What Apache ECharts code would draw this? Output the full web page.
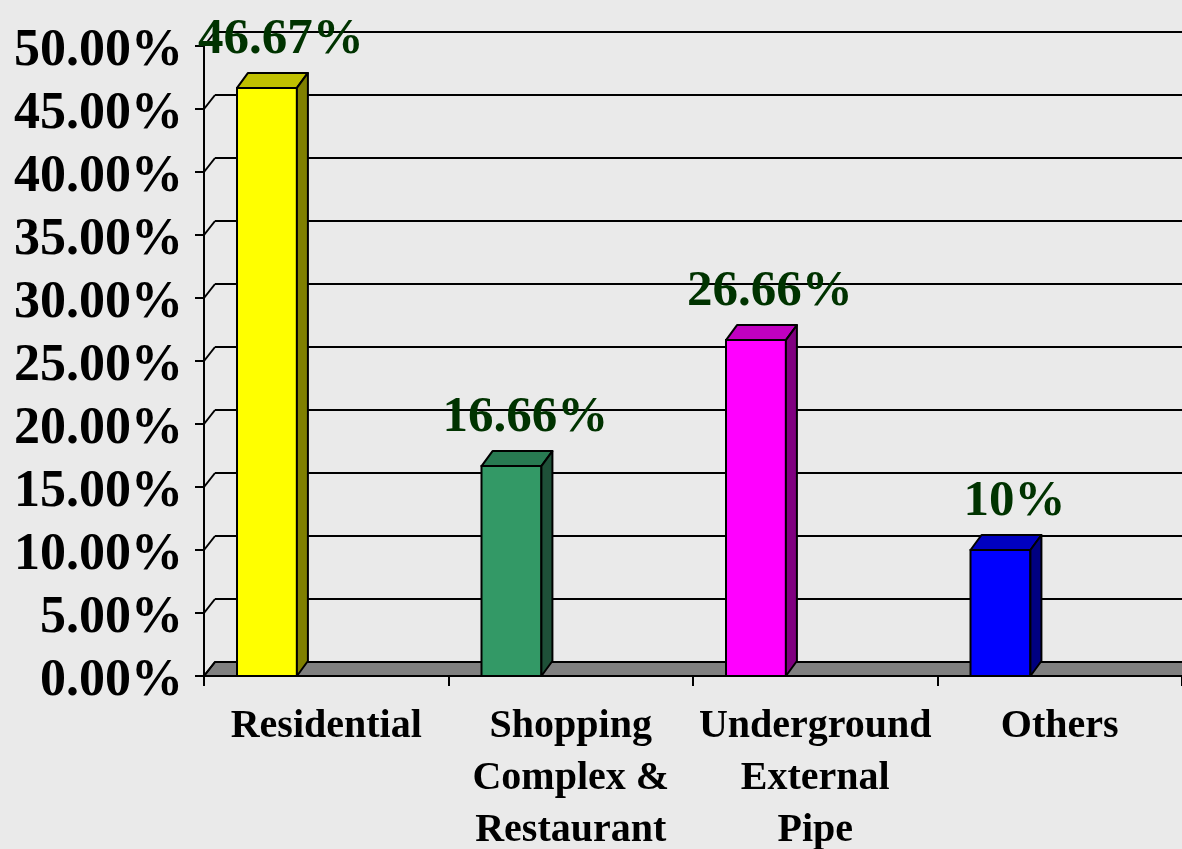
<!DOCTYPE html>
<html><head><meta charset="utf-8">
<script src="https://cdn.jsdelivr.net/npm/echarts@6/dist/echarts.min.js"></script>
<style>html,body{margin:0;padding:0;background:#eaeaea}#c{width:1182px;height:849px}</style>
</head><body><div id="c"></div>
<script>
// ---- data ----
const categories = ['Residential', 'Shopping\nComplex &\nRestaurant', 'Underground\nExternal\nPipe', 'Others'];
const values = [46.67, 16.66, 26.66, 10];
const yMin = 0, yMax = 50, yStep = 5;
const yTicks = [0, 5, 10, 15, 20, 25, 30, 35, 40, 45, 50];

// ---- styles ----
const frontColors = ['#FFFF00', '#339966', '#FF00FF', '#0000FF'];
const topColors = ['#C0C000', '#287A52', '#C000C0', '#0000C0'];
const sideColors = ['#808000', '#1E5038', '#800080', '#000080'];
const FONT = '"Liberation Serif","Times New Roman",serif';
const FDX = 11, FDY = -14;   // frame depth
const BDX = 11, BDY = -15;   // bar depth

function fmtVal(v) { return (Number.isInteger(v) ? String(v) : v.toFixed(2)) + '%'; }

const chart = echarts.init(document.getElementById('c'), null, { renderer: 'canvas' });
chart.setOption({
  backgroundColor: '#eaeaea',
  animation: false,
  grid: [
    { left: 204, right: 0, top: 46, bottom: 173, containLabel: false, outerBoundsMode: 'none' },
    { left: 204 + FDX, right: 0, top: 46 + FDY, bottom: 173 - FDY, containLabel: false, outerBoundsMode: 'none' }
  ],
  xAxis: [
    {
      type: 'category', gridIndex: 0, data: categories,
      axisLine: { show: true, lineStyle: { color: '#000', width: 2 } },
      axisTick: { show: true, length: 10, alignWithLabel: false, lineStyle: { color: '#000', width: 2 } },
      axisLabel: { interval: 0, color: '#000', fontSize: 40, fontWeight: 'bold', fontFamily: FONT, lineHeight: 52, margin: 25 }
    },
    { type: 'category', gridIndex: 1, data: categories, show: false }
  ],
  yAxis: [
    {
      type: 'value', gridIndex: 0, min: yMin, max: yMax, interval: yStep,
      axisLine: { show: true, lineStyle: { color: '#000', width: 2 } },
      axisTick: { show: true, length: 9, lineStyle: { color: '#000', width: 2 } },
      splitLine: { show: false },
      axisLabel: { formatter: v => v.toFixed(2) + '%', color: '#000', fontSize: 52, fontWeight: 'bold', fontFamily: FONT, margin: 21, verticalAlign: 'top', lineHeight: 12 }
    },
    {
      type: 'value', gridIndex: 1, min: yMin, max: yMax, interval: yStep,
      axisLine: { show: false }, axisTick: { show: false }, axisLabel: { show: false },
      splitLine: { show: true, lineStyle: { color: '#000', width: 2 } }
    }
  ],
  series: [
    {
      type: 'custom', xAxisIndex: 0, yAxisIndex: 0, z: 1, silent: true,
      data: [[0, 0]],
      renderItem(params, api) {
        const cs = params.coordSys;
        const y0 = api.coord([0, 0])[1];
        const xl = cs.x, xr = cs.x + cs.width + 30;
        return {
          type: 'polygon',
          shape: { points: [[xl, y0], [xr, y0], [xr, y0 + FDY], [xl + FDX, y0 + FDY]] },
          style: { fill: '#808080', stroke: '#000', lineWidth: 2 }
        };
      }
    },
    {
      type: 'custom', xAxisIndex: 0, yAxisIndex: 0, z: 1, silent: true,
      data: yTicks.map(v => [0, v]),
      renderItem(params, api) {
        const cs = params.coordSys;
        const y = api.coord([0, api.value(1)])[1];
        return {
          type: 'line',
          shape: { x1: cs.x, y1: y, x2: cs.x + FDX, y2: y + FDY },
          style: { stroke: '#000', lineWidth: 2 }
        };
      }
    },
    {
      type: 'custom', xAxisIndex: 0, yAxisIndex: 0, z: 3,
      data: values.map((v, i) => [i, v]),
      renderItem(params, api) {
        const i = params.dataIndex;
        const v = api.value(1);
        const top = api.coord([i, v]);
        const base = api.coord([i, 0]);
        const band = api.size([1, 0])[0];
        const w = band * 0.245;
        const x1 = top[0] - band * 0.365;
        const x2 = x1 + w;
        const yv = top[1], y0 = base[1];
        return {
          type: 'group',
          children: [
            { type: 'polygon', shape: { points: [[x1, yv], [x2, yv], [x2, y0], [x1, y0]] },
              style: { fill: frontColors[i], stroke: '#000', lineWidth: 2 } },
            { type: 'polygon', shape: { points: [[x1, yv], [x2, yv], [x2 + BDX, yv + BDY], [x1 + BDX, yv + BDY]] },
              style: { fill: topColors[i], stroke: '#000', lineWidth: 2, lineJoin: 'round' } },
            { type: 'polygon', shape: { points: [[x2, yv], [x2 + BDX, yv + BDY], [x2 + BDX, y0 + BDY], [x2, y0]] },
              style: { fill: sideColors[i], stroke: '#000', lineWidth: 2, lineJoin: 'round' } },
            { type: 'text', style: {
                text: fmtVal(v), x: x1 + w / 2 + 14, y: yv + BDY - 8,
                align: 'center', verticalAlign: 'bottom',
                fontSize: 51, fontWeight: 'bold', fontFamily: FONT, fill: '#003300' } }
          ]
        };
      }
    }
  ]
});
</script>
</body></html>
